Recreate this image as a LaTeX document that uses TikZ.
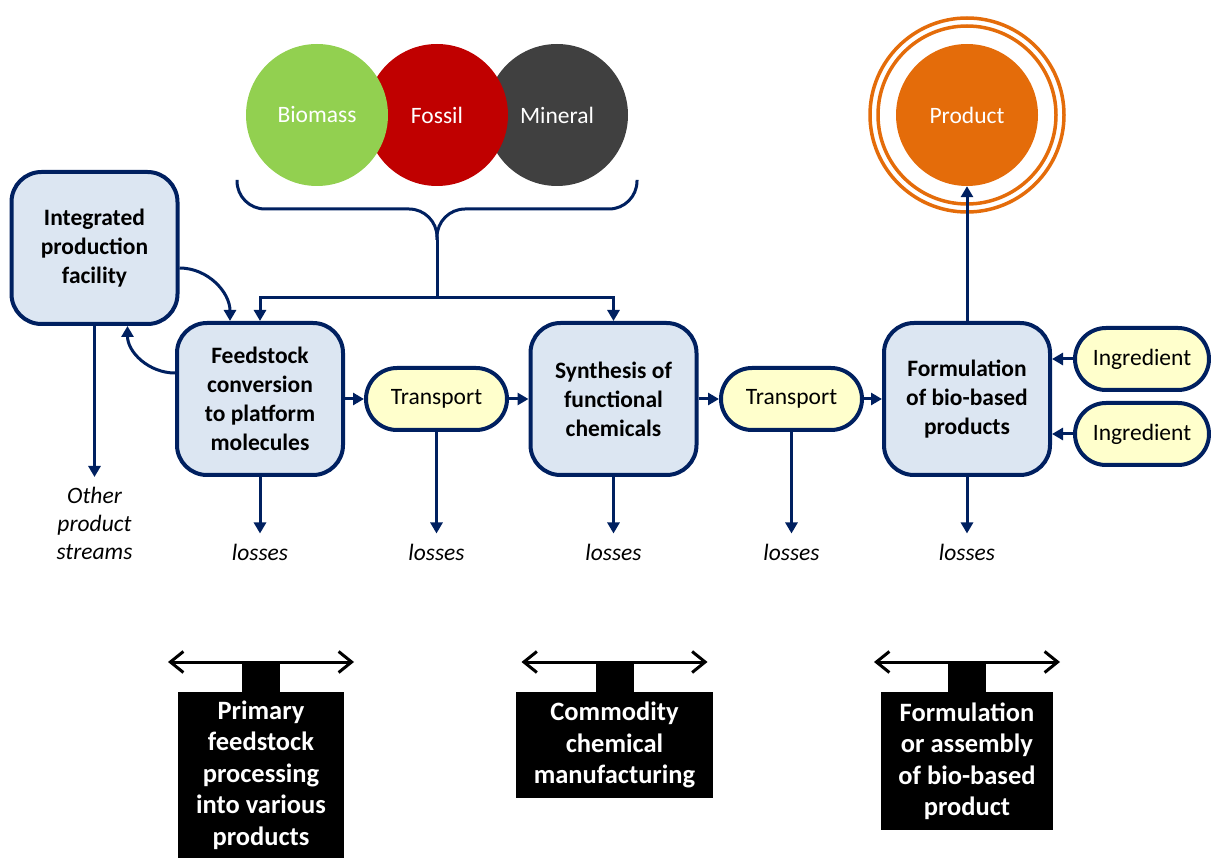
\documentclass[tikz,border=0pt]{standalone}
\usepackage{fontspec}
\setmainfont{Carlito}
\usetikzlibrary{positioning, arrows.meta, calc}

\definecolor{navy}{HTML}{002060}
\definecolor{boxblue}{HTML}{DCE6F2}
\definecolor{pillyellow}{HTML}{FFFFCC}
\definecolor{biogreen}{HTML}{92D050}
\definecolor{fossilred}{HTML}{C00000}
\definecolor{mineralgrey}{HTML}{404040}
\definecolor{prodorange}{HTML}{E46C0A}

\begin{document}
\begin{tikzpicture}[
  x=1pt, y=-1pt,
  font=\fontsize{23.5}{29}\selectfont,
  every node/.style={inner sep=2.5pt},
  stage/.style={
    draw=navy, line width=4pt, rectangle, rounded corners=30pt,
    minimum width=166pt, minimum height=152pt,
    align=center, fill=boxblue, font=\fontsize{23.5}{29}\selectfont\bfseries,
  },
  pill/.style={
    draw=navy, line width=4pt, rectangle, rounded corners=31pt,
    minimum width=141pt, minimum height=62pt, fill=pillyellow,
  },
  source/.style={circle, minimum size=142pt, inner sep=0pt, text=white},
  lossnote/.style={align=center, inner sep=10pt,
                   font=\fontsize{23.5}{28}\selectfont\itshape},
  scopebox/.style={
    fill=black, text=white, anchor=north, align=center,
    font=\fontsize{26.5}{31.5}\selectfont\bfseries,
  },
  arr/.style={-{Triangle[length=11pt,width=12pt]}, line width=3pt, draw=navy},
  flow/.style={line width=3pt, draw=navy},
  ring/.style={draw=prodorange, line width=3.5pt},
  spanarr/.style={{Straight Barb[length=13pt,width=21pt]}-{Straight Barb[length=13pt,width=21pt]},
                  line width=3pt},
]
\useasboundingbox (0,0) rectangle (1211,858);

% ── Rows and columns (picture units) ───────────────────────────────
\def\rTop{115}
\def\rMain{399}
\def\cFeed{260}
\def\cTrA{436.5}
\def\cSyn{613.5}
\def\cTrB{791.5}
\def\cForm{967}

% ── Sources (right to left, so each one sits over its neighbour) ───
\node[source, fill=mineralgrey] (mineral) at (557,\rTop) {Mineral};
\node[source, fill=fossilred]   (fossil)  at (437,\rTop) {Fossil};
\node[source, fill=biogreen]    (biomass) at (317,\rTop) {Biomass};

% ── Main chain ─────────────────────────────────────────────────────
\node[stage] (facility) at (94.5,248) {Integrated\\production\\facility};
\node[stage] (feed)  at (\cFeed,\rMain) {Feedstock\\conversion\\to platform\\molecules};
\node[pill]  (trA)   at (\cTrA,\rMain)  {Transport};
\node[stage] (synth) at (\cSyn,\rMain)  {Synthesis of\\functional\\chemicals};
\node[pill]  (trB)   at (\cTrB,\rMain)  {Transport};
\node[stage] (form)  at (\cForm,\rMain) {Formulation\\of bio-based\\products};
\node[pill, minimum width=134pt] (ingA) at (1142,359) {Ingredient};
\node[pill, minimum width=134pt] (ingB) at (1142,434) {Ingredient};

% ── Product with its two rings ─────────────────────────────────────
\node[source, fill=prodorange] (product) at (\cForm,\rTop) {Product};
\draw[ring] (product.center) circle[radius=89pt];
\draw[ring] (product.center) circle[radius=97pt];

% ── Brace under the sources, then the bus to the two stages ────────
\coordinate (braceL)   at (237,180);
\coordinate (braceR)   at (637,180);
\coordinate (braceM)   at (437,209);
\coordinate (braceTip) at (437,240);
\coordinate (bus)      at (437,298);
\draw[flow, rounded corners=28pt] (braceL) |- (braceM) -- (braceTip);
\draw[flow, rounded corners=28pt] (braceR) |- (braceM) -- (braceTip);
\draw[flow] (braceTip) -- (bus);
\draw[arr] (bus) -| (feed.north);
\draw[arr] (bus) -| (synth.north);

% ── Left to right along the chain ──────────────────────────────────
\draw[arr] (feed.east)  -- (trA.west);
\draw[arr] (trA.east)   -- (synth.west);
\draw[arr] (synth.east) -- (trB.west);
\draw[arr] (trB.east)   -- (form.west);
\draw[arr] (ingA.west)  -- (form.east |- ingA.west);
\draw[arr] (ingB.west)  -- (form.east |- ingB.west);
\draw[arr] (form.north) -- (product.south);

% ── Exchange with the integrated facility ──────────────────────────
\draw[arr] ([yshift=-20pt]facility.east) to[out=0, in=90] ([xshift=-30pt]feed.north);
\draw[arr] ([yshift=26pt]feed.west) to[out=180, in=-90] ([xshift=33pt]facility.south);

% ── Losses and side streams ────────────────────────────────────────
\node[lossnote, anchor=north] (other) at (94.5,477) {Other\\product\\streams};
\node[lossnote, anchor=base] (lossFeed)  at (\cFeed,560) {losses};
\node[lossnote, anchor=base] (lossTrA)   at (\cTrA,560)  {losses};
\node[lossnote, anchor=base] (lossSynth) at (\cSyn,560)  {losses};
\node[lossnote, anchor=base] (lossTrB)   at (\cTrB,560)  {losses};
\node[lossnote, anchor=base] (lossForm)  at (\cForm,560) {losses};
\draw[arr] (facility.south) -- (other.north);
\draw[arr] (feed.south)  -- (lossFeed.north);
\draw[arr] (trA.south)   -- (lossTrA.north);
\draw[arr] (synth.south) -- (lossSynth.north);
\draw[arr] (trB.south)   -- (lossTrB.north);
\draw[arr] (form.south)  -- (lossForm.north);

% ── Scope labels at the bottom ─────────────────────────────────────
\node[scopebox, minimum width=166pt, minimum height=166pt] (primary) at (261,692)
  {Primary\\feedstock\\processing\\into various\\products};
\node[scopebox, minimum width=197pt, minimum height=106pt] (commodity) at (614.5,692)
  {Commodity\\chemical\\manufacturing};
\node[scopebox, minimum width=172pt, minimum height=138pt] (assembly) at (967,692)
  {Formulation\\or assembly\\of bio-based\\product};
\foreach \b in {primary, commodity, assembly} {
  \fill ([xshift=-19pt]\b.north) rectangle ([xshift=19pt,yshift=30pt]\b.north);
  \draw[spanarr] ([xshift=-93pt,yshift=30pt]\b.north) -- ([xshift=93pt,yshift=30pt]\b.north);
}

\end{tikzpicture}
\end{document}
